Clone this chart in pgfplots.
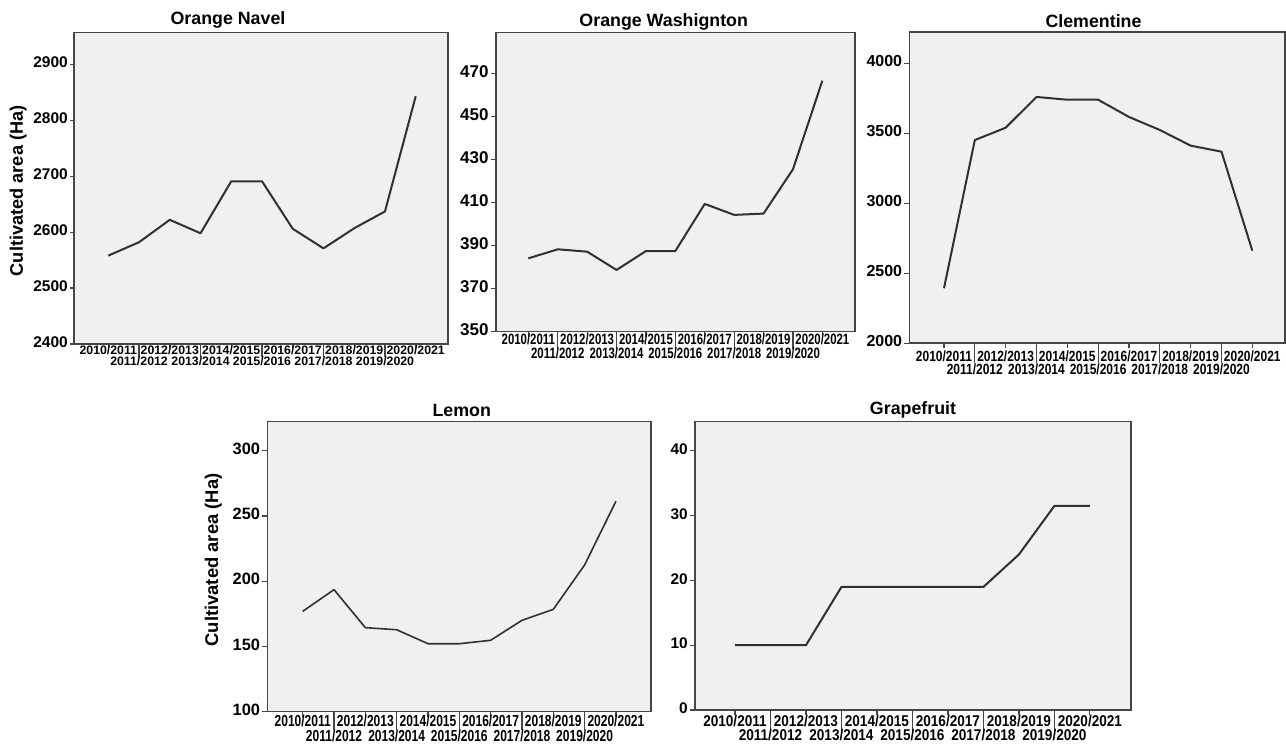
\documentclass[border=0pt]{standalone}
\usepackage{pgfplots}
\pgfplotsset{compat=1.18}
\usepackage{fontspec}
\setmainfont{Liberation Sans}
\newfontfamily\xfa{Liberation Sans}
\newfontfamily\xfb[FakeStretch=0.76]{Liberation Sans}
\newfontfamily\xfc[FakeStretch=0.81]{Liberation Sans}
\newfontfamily\xfd[FakeStretch=0.75]{Liberation Sans}
\newfontfamily\xfe[FakeStretch=0.87]{Liberation Sans}
\definecolor{bgc}{HTML}{F0F0F0}
\definecolor{framec}{HTML}{454545}
\definecolor{linec}{HTML}{303030}
\newcommand{\fs}[1]{\fontsize{#1pt}{#1pt}\selectfont}
\pgfplotsset{
  panel/.style={
    scale only axis, anchor=south west,
    axis background/.style={fill=bgc},
    axis line style={draw=framec, line width=1.6pt},
    tick style={draw=framec, line width=1.2pt},
    tick align=outside, xtick pos=bottom, ytick pos=left,
    major tick length=5pt,
    xtick={0,2,4,6,8,10},
    xticklabels={2010/2011,2012/2013,2014/2015,2016/2017,2018/2019,2020/2021},
    extra x ticks={1,3,5,7,9},
    extra x tick labels={2011/2012,2013/2014,2015/2016,2017/2018,2019/2020},
    scaled y ticks=false,
    /pgf/number format/assume math mode=true,
    /pgf/number format/1000 sep={},
    yticklabel style={anchor=east, inner sep=0pt, text height=0.72em, text depth=0pt, xshift=-2pt},
    xticklabel style={anchor=north, inner sep=0pt, text height=0.72em, text depth=0pt},
  },
  dl/.style={draw=linec, line width=2pt, mark=none, line join=round},
}
\begin{document}
\begin{tikzpicture}
\path[use as bounding box] (0pt,0pt) rectangle (1286pt,747pt);
% Orange Navel
\begin{axis}[panel, at={(74pt,403pt)}, width=374pt, height=311.5pt,
  xmin=-1.116, xmax=11.05, ymin=2400, ymax=2957, ytick={2400,2500,...,2900},
  yticklabel style={font=\bfseries\fs{15.5}},
  xticklabel style={font=\xfa\bfseries\fs{12.3}, yshift=0.7pt},
  major tick length=4pt,
  extra x tick style={major tick length=12.7pt, xticklabel style={yshift=-2.3pt}}]
\addplot[dl] coordinates {(0,2558) (1,2582) (2,2622) (3,2598) (4,2691) (5,2691) (6,2606) (7,2571) (8,2607) (9,2637) (10,2843)};
\end{axis}
% Orange Washington
\begin{axis}[panel, at={(495.7pt,415.3pt)}, width=359.3pt, height=299pt,
  xmin=-1.11, xmax=11.11, ymin=350, ymax=489, ytick={350,370,...,470},
  yticklabel style={font=\bfseries\fs{17}},
  xticklabel style={font=\xfb\bfseries\fs{15}, yshift=-0.6pt},
  extra x tick style={major tick length=17pt, xticklabel style={yshift=-2.2pt}}]
\addplot[dl] coordinates {(0,384.1) (1,388.3) (2,387.2) (3,378.7) (4,387.5) (5,387.5) (6,409.4) (7,404.3) (8,404.9) (9,425.5) (10,466.7)};
\end{axis}
% Clementine
\begin{axis}[panel, at={(909.3pt,403.7pt)}, width=375.7pt, height=311.3pt,
  xmin=-1.125, xmax=11.06, ymin=2000, ymax=4224, ytick={2000,2500,...,4000},
  yticklabel style={font=\bfseries\fs{16}},
  xticklabel style={font=\xfc\bfseries\fs{14.8}, yshift=-5.7pt},
  extra x tick style={major tick length=20pt, xticklabel style={yshift=2.3pt}}]
\addplot[dl] coordinates {(0,2393) (1,3452) (2,3540) (3,3760) (4,3740) (5,3740) (6,3617) (7,3524) (8,3412) (9,3369) (10,2662)};
\end{axis}
% Lemon
\begin{axis}[panel, at={(267.3pt,35.3pt)}, width=383.7pt, height=290pt,
  xmin=-1.13, xmax=11.12, ymin=100, ymax=322.2, ytick={100,150,...,300},
  yticklabel style={font=\bfseries\fs{16.4}},
  xticklabel style={font=\xfd\bfseries\fs{16}, yshift=-2.3pt},
  extra x tick style={major tick length=18pt, xticklabel style={yshift=-2.2pt}}]
\addplot[dl, line width=1.6pt] coordinates {(0,176.9) (1,193.5) (2,164.4) (3,162.8) (4,152.1) (5,152.1) (6,154.7) (7,170) (8,178.4) (9,212.4) (10,261.2)};
\end{axis}
% Grapefruit
\begin{axis}[panel, at={(695pt,37pt)}, width=435.7pt, height=288.3pt,
  xmin=-1.127, xmax=11.15, ymin=0, ymax=44.5, ytick={0,10,...,40},
  yticklabel style={font=\bfseries\fs{15.4}},
  xticklabel style={font=\xfe\bfseries\fs{15.6}, yshift=-4.3pt},
  extra x tick style={major tick length=21.7pt, xticklabel style={yshift=3pt}}]
\addplot[dl] coordinates {(0,10) (1,10) (2,10) (3,19) (4,19) (5,19) (6,19) (7,19) (8,24) (9,31.5) (10,31.5)};
\end{axis}
% titles
\node[anchor=base, inner sep=0pt, font=\bfseries\fs{17.8}] at (228pt,722pt) {Orange Navel};
\node[anchor=base, inner sep=0pt, font=\bfseries\fs{17.8}] at (663.7pt,720.3pt) {Orange Washignton};
\node[anchor=base, inner sep=0pt, font=\bfseries\fs{17.8}] at (1093.5pt,719.7pt) {Clementine};
\node[anchor=base, inner sep=0pt, font=\bfseries\fs{17.8}] at (461.7pt,330.3pt) {Lemon};
\node[anchor=base, inner sep=0pt, font=\bfseries\fs{17.8}] at (913pt,332.7pt) {Grapefruit};
% y labels
\node[anchor=base, rotate=90, inner sep=0pt, font=\bfseries\fs{18.2}] at (22.9pt,556.2pt) {Cultivated area (Ha)};
\node[anchor=base, rotate=90, inner sep=0pt, font=\bfseries\fs{18.4}] at (218pt,187pt) {Cultivated area (Ha)};
\end{tikzpicture}
\end{document}
